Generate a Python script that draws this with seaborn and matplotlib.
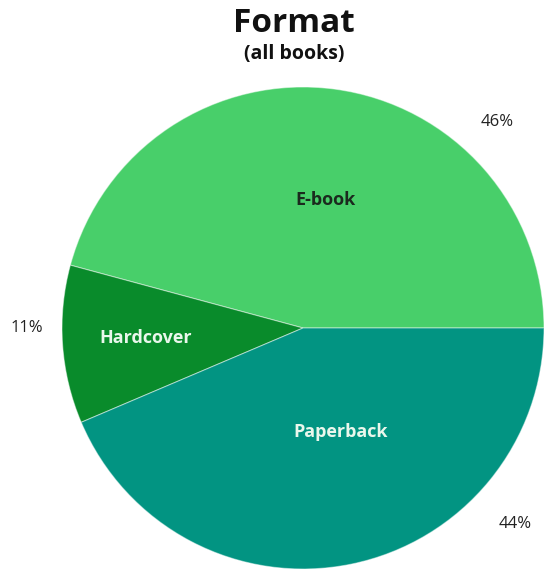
import matplotlib
matplotlib.use("Agg")
import matplotlib.pyplot as plt
import numpy as np
import seaborn as sns

sns.set_theme(style="white")
plt.rcParams["font.family"] = ["Open Sans", "DejaVu Sans"]

# Share of all books by format (percent)
formats = ["E-book", "Hardcover", "Paperback"]
shares = [45.8, 10.6, 43.6]
colors = ["#48CF6A", "#098B2B", "#029482"]
name_colors = ["#1b2a1e", "#eaf7ec", "#eaf7ec"]

W, H, dpi = 545, 574, 100
fig = plt.figure(figsize=(W / dpi, H / dpi), dpi=dpi)
ax = fig.add_axes([0, 0, 1, 1])

# Pie geometry in pixels, mapped into data units where radius == 1
cx, cy, r = 303, 328, 241

ax.pie(
    shares, colors=colors, startangle=0, counterclock=True, radius=1,
    center=(0, 0), frame=True,
    wedgeprops=dict(edgecolor=(1, 1, 1, 0.45), linewidth=0.8),
)
ax.set_xlim(-cx / r, (W - cx) / r)
ax.set_ylim(-(H - cy) / r, cy / r)
ax.set_aspect("auto")
ax.axis("off")

# Category names inside the slices: (angle in degrees, distance from centre)
name_pos = [(80, 0.54), (183.6, 0.655), (290, 0.46)]
for name, (ang, d), c in zip(formats, name_pos, name_colors):
    t = np.deg2rad(ang)
    ax.text(d * np.cos(t), d * np.sin(t), name, ha="center", va="center",
            fontsize=13, fontweight="bold", color=c)

# Percentage labels outside the pie
pct_pos = [(46.7, 1.175), (180, 1.145), (-42.8, 1.2)]
for v, (ang, d) in zip(shares, pct_pos):
    t = np.deg2rad(ang)
    ax.text(d * np.cos(t), d * np.sin(t), f"{round(v)}%", ha="center",
            va="center", fontsize=12, color="#222222")

fig.text(294 / W, 1 - 23 / H, "Format", ha="center", va="center",
         fontsize=24, fontweight="bold", color="#111111")
fig.text(294 / W, 1 - 54 / H, "(all books)", ha="center", va="center",
         fontsize=14, fontweight="bold", color="#111111")

fig.savefig("out.png", dpi=dpi, facecolor="white")
